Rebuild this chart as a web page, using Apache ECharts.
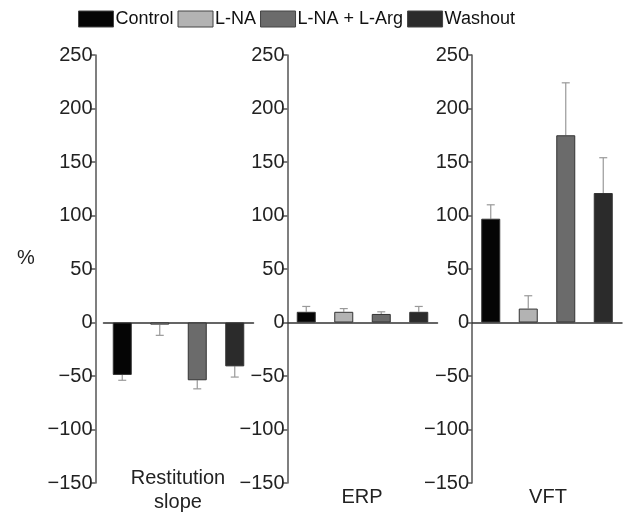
<!DOCTYPE html>
<html>
<head>
<meta charset="utf-8">
<script src="https://cdn.jsdelivr.net/npm/echarts@6/dist/echarts.min.js"></script>
<style>
  html, body { margin: 0; padding: 0; background: #fff; }
  #chart { width: 637px; height: 514px; }
</style>
</head>
<body>
<div id="chart"></div>
<script>
const groups = ['Control', 'L-NA', 'L-NA + L-Arg', 'Washout']
const panels = ['Restitution\nslope', 'ERP', 'VFT']

// mean values per panel, in group order
const restitution = [-49, -2, -54, -41]
const erp = [10, 10, 8, 10]
const vft = [97, 13, 175, 121]

// where the error bar ends
const restitutionErr = [-54, -12, -62, -51]
const erpErr = [15, 13, 10, 15]
const vftErr = [110, 25, 224, 154]

const yTicks = [-150, -100, -50, 0, 50, 100, 150, 200, 250]

const colors = ['#050505', '#b3b3b3', '#6b6b6b', '#2b2b2b']
const font = 'Liberation Sans, Arial, sans-serif'

const chart = echarts.init(document.getElementById('chart'))

const means = [restitution, erp, vft]
const errs = [restitutionErr, erpErr, vftErr]
const gridLefts = [103.5, 287.5, 472]
const axisOffsets = [8, 0, 0]

const grid = gridLefts.map(l => ({ left: l, top: 55, width: 150, height: 428 }))

const xAxis = gridLefts.map((l, i) => ({
  type: 'category',
  gridIndex: i,
  data: groups,
  axisLine: { onZero: true, lineStyle: { color: '#333', width: 1.5 } },
  axisTick: { show: false },
  axisLabel: { show: false }
}))

const yAxis = gridLefts.map((l, i) => ({
  type: 'value',
  gridIndex: i,
  min: yTicks[0],
  max: yTicks[yTicks.length - 1],
  interval: 50,
  offset: axisOffsets[i],
  splitLine: { show: false },
  axisLine: { show: true, lineStyle: { color: '#555', width: 1.5 } },
  axisTick: { show: true, length: 5, lineStyle: { color: '#555', width: 1.5 } },
  axisLabel: {
    color: '#222', fontSize: 20, fontFamily: font, margin: 3,
    formatter: v => String(v).replace('-', '\u2212')
  }
}))

const series = []
// one bar series per group, across all three panels
groups.forEach((g, gi) => {
  means.forEach((vals, pi) => {
    const data = groups.map((_, k) => (k === gi ? vals[k] : '-'))
    series.push({
      name: g,
      type: 'bar',
      xAxisIndex: pi,
      yAxisIndex: pi,
      barWidth: 19,
      barGap: '-100%',
      data: data,
      itemStyle: { color: colors[gi], borderColor: '#333', borderWidth: 1 },
      z: 3
    })
  })
})

// error bars
means.forEach((vals, pi) => {
  series.push({
    type: 'custom',
    xAxisIndex: pi,
    yAxisIndex: pi,
    data: vals.map((v, k) => [k, v, errs[pi][k]]),
    renderItem: (params, api) => {
      const p0 = api.coord([api.value(0), api.value(1)])
      const p1 = api.coord([api.value(0), api.value(2)])
      const style = { stroke: '#999', lineWidth: 1.2 }
      return {
        type: 'group',
        children: [
          { type: 'line', shape: { x1: p0[0], y1: p0[1], x2: p1[0], y2: p1[1] }, style },
          { type: 'line', shape: { x1: p1[0] - 4, y1: p1[1], x2: p1[0] + 4, y2: p1[1] }, style }
        ]
      }
    },
    z: 2
  })
})

const textStyle = { fill: '#222', fontSize: 20, fontFamily: font }
const label = (text, x, y) => ({
  type: 'text', x: x, y: y,
  style: Object.assign({ text: text, align: 'center', verticalAlign: 'middle' }, textStyle)
})

chart.setOption({
  animation: false,
  backgroundColor: '#fff',
  legend: {
    data: groups,
    top: 10,
    left: 78,
    padding: 0,
    itemWidth: 35,
    itemHeight: 16,
    itemGap: 4,
    icon: 'rect',
    textStyle: { color: '#111', fontSize: 18, fontFamily: font, padding: [0, 0, 0, -3] },
    itemStyle: { borderColor: '#444', borderWidth: 1 }
  },
  grid: grid,
  xAxis: xAxis,
  yAxis: yAxis,
  series: series,
  graphic: [
    label('%', 26, 258),
    label('Restitution', 178, 478),
    label('slope', 178, 502),
    label('ERP', 362, 497),
    label('VFT', 548, 497)
  ]
})
</script>
</body>
</html>
